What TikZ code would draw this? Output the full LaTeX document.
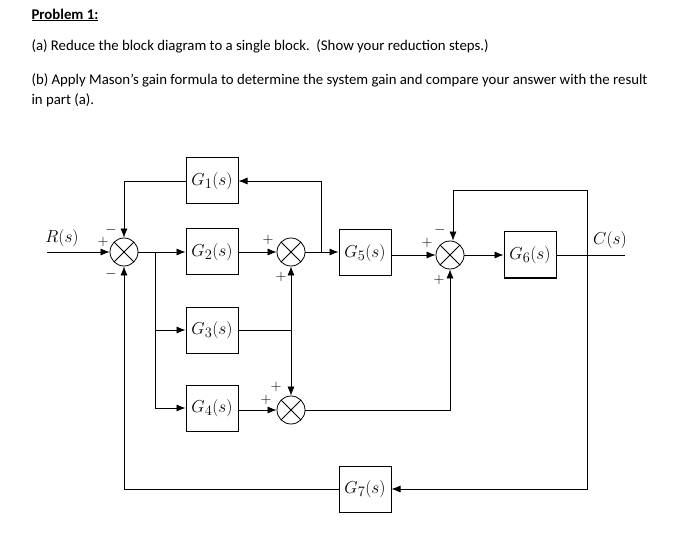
\documentclass[tikz,border=0pt]{standalone}
\usepackage{fontspec}
\setmainfont{Carlito}
\usetikzlibrary{arrows.meta}
\tikzset{
  blk/.style={draw,line width=1pt,minimum width=52pt,minimum height=46pt,inner sep=0pt,font=\fontsize{19}{19}\selectfont},
  sum/.style={draw,circle,line width=0.8pt,minimum size=28pt,inner sep=0pt,path picture={
      \draw (path picture bounding box.north west)--(path picture bounding box.south east)
            (path picture bounding box.north east)--(path picture bounding box.south west);}},
  sig/.style={-{Latex[length=9pt,width=7pt]},line width=0.7pt},
  ln/.style={line width=0.7pt},
  sgn/.style={font=\Large,inner sep=1pt},
  txt/.style={anchor=west,font=\fontsize{14.8}{14.8}\selectfont}
}
\begin{document}
\begin{tikzpicture}[x=1pt,y=-1pt]
	\useasboundingbox (0,0) rectangle (699,548);
	\node[txt,font=\fontsize{14.8}{14.8}\selectfont\bfseries] (p) at (28,15) {\underline{Problem 1:}};
	\node[txt] (pa) at (28,46) {(a) Reduce the block diagram to a single block.\ \ (Show your reduction steps.)};
	\node[txt] (pb) at (28,80) {(b) Apply Mason’s gain formula to determine the system gain and compare your answer with the result};
	\node[txt] (pc) at (28,100) {in part (a).};
	\node[blk] (g1) at (212,181) {$G_1(s)$};
	\node[blk] (g2) at (212,252) {$G_2(s)$};
	\node[blk] (g3) at (212,330) {$G_3(s)$};
	\node[blk] (g4) at (212,408) {$G_4(s)$};
	\node[blk] (g5) at (365,253) {$G_5(s)$};
	\node[blk] (g6) at (530,255) {$G_6(s)$};
	\node[blk] (g7) at (365,489) {$G_7(s)$};
	\node[sum] (s1) at (124,252) {};
	\node[sum] (s2) at (291,252) {};
	\node[sum] (s3) at (450,255) {};
	\node[sum] (s4) at (291,410) {};
	\coordinate (rin) at (47,252);
	\coordinate (cout) at (625,255);
	\coordinate (b1) at (155,252);
	\coordinate (t1) at (321,252);
	\coordinate (j3) at (291,330);
	\coordinate (c1) at (587,255);
	\node[font=\fontsize{17}{17}\selectfont] (rl) at (62,238) {$R(s)$};
	\node[font=\fontsize{17}{17}\selectfont] (cl) at (610,240) {$C(s)$};
	% forward path
	\draw[sig] (rin) -- (s1);
	\draw[sig] (s1) -- (g2);
	\draw[sig] (g2) -- (s2);
	\draw[sig] (s2) -- (s2 -| g5.west);
	\draw[sig] (g5.east |- s3) -- (s3);
	\draw[sig] (s3) -- (g6);
	\draw[ln] (g6) -- (cout);
	% branches
	\draw[sig] (b1) |- (g3);
	\draw[sig] (b1) |- (g4);
	\draw[sig] (g4.east |- s4) -- (s4);
	\draw[ln] (g3) -- (j3);
	\draw[sig] (j3) -- (s2);
	\draw[sig] (j3) -- (s4);
	\draw[sig] (s4) -| (s3);
	% feedback
	\draw[sig] (t1) |- (g1);
	\draw[sig] (g1) -| (s1);
	\draw[sig] (c1) |- ([xshift=3pt]s3.north |- 0,190) -- ([xshift=3pt]s3.north);
	\draw[sig] (c1) |- (g7);
	\draw[sig] (g7) -| (s1);
	% signs
	\node[sgn] (m1) at (103,242) {$+$};
	\node[sgn] (m2) at (111,230) {$-$};
	\node[sgn] (m3) at (111,274) {$-$};
	\node[sgn] (m4) at (268,240) {$+$};
	\node[sgn] (m5) at (281,277) {$+$};
	\node[sgn] (m6) at (427,243) {$+$};
	\node[sgn] (m7) at (440,230) {$-$};
	\node[sgn] (m8) at (439,280) {$+$};
	\node[sgn] (m9) at (266,400) {$+$};
	\node[sgn] (m10) at (276,387) {$+$};
\end{tikzpicture}
\end{document}
